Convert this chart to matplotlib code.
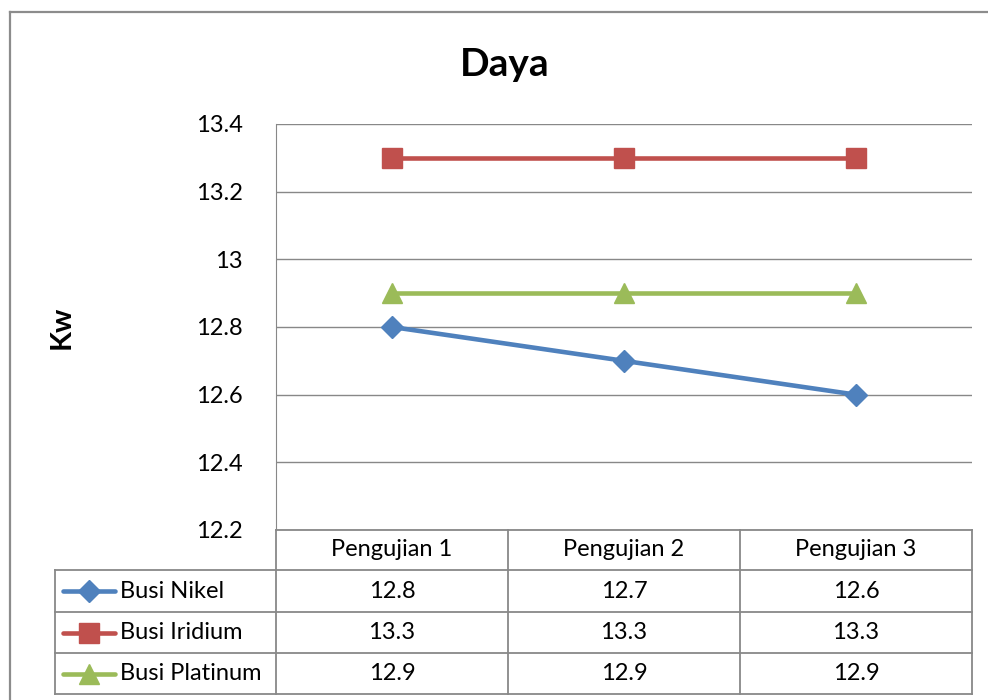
import matplotlib.pyplot as plt
from matplotlib.lines import Line2D

plt.rcParams['font.family'] = ['Lato', 'DejaVu Sans']

categories = ['Pengujian 1', 'Pengujian 2', 'Pengujian 3']
series_names = ['Busi Nikel', 'Busi Iridium', 'Busi Platinum']
nikel = [12.8, 12.7, 12.6]
iridium = [13.3, 13.3, 13.3]
platinum = [12.9, 12.9, 12.9]
y_ticks = [12.2, 12.4, 12.6, 12.8, 13.0, 13.2, 13.4]
y_labels = ['12.2', '12.4', '12.6', '12.8', '13', '13.2', '13.4']

colors = ['#4F81BD', '#C0504D', '#9BBB59']
markers = ['D', 's', '^']
msizes = [11, 14, 14]
grid_c = '#888888'
fs = 17

W, H = 988, 700
fig = plt.figure(figsize=(W / 100, H / 100), dpi=100)

def fx(px):
    return px / W

def fy(py):
    return 1 - py / H

# plot area in pixels
L, R, T, B = 276, 972, 124, 530
ax = fig.add_axes([fx(L), fy(B), fx(R) - fx(L), fy(T) - fy(B)])

all_series = [nikel, iridium, platinum]
x = list(range(len(categories)))
for vals, c, m, ms in zip(all_series, colors, markers, msizes):
    ax.plot(x, vals, color=c, lw=3.3, marker=m, markersize=ms,
            markeredgecolor=c, markerfacecolor=c, solid_capstyle='round', zorder=3)

ax.set_xlim(-0.5, len(categories) - 0.5)
ax.set_ylim(y_ticks[0], y_ticks[-1])
ax.set_yticks(y_ticks)
ax.set_yticklabels(y_labels, fontsize=fs)
ax.set_xticks([])
ax.tick_params(axis='y', length=0, pad=24)
ax.yaxis.grid(True, color=grid_c, lw=1)
ax.set_axisbelow(True)
for s in ['top', 'right', 'bottom']:
    ax.spines[s].set_visible(False)
ax.spines['left'].set_color(grid_c)

fig.text(fx(62), fy(327), 'Kw', fontsize=21, fontweight='bold', rotation=90,
         ha='center', va='center')
fig.text(fx(505), fy(65), 'Daya', fontsize=28, fontweight='bold',
         ha='center', va='center')

# outer chart border (left/top visible)
fig.add_artist(Line2D([fx(10), fx(10)], [fy(12), fy(H + 5)], color='#8c8c8c', lw=1.6))
fig.add_artist(Line2D([fx(10), fx(W + 5)], [fy(12), fy(12)], color='#8c8c8c', lw=1.6))

# data table
col_w = (R - L) / len(categories)
row_y = [570, 612, 653, 694]
tl = dict(color=grid_c, lw=1.3)

def hline(x0, x1, y):
    fig.add_artist(Line2D([fx(x0), fx(x1)], [fy(y), fy(y)], **tl))

def vline(xp, y0, y1):
    fig.add_artist(Line2D([fx(xp), fx(xp)], [fy(y0), fy(y1)], **tl))

hline(L, R, B)
for y in row_y:
    hline(55, R, y)
vline(55, row_y[0], row_y[-1])
vline(L, B, row_y[-1])
for i in range(1, len(categories) + 1):
    vline(L + i * col_w, B, row_y[-1])

for i, cat in enumerate(categories):
    fig.text(fx(L + (i + 0.5) * col_w), fy((B + row_y[0]) / 2), cat,
             fontsize=fs, ha='center', va='center')

for r, (name, vals, c, m, ms) in enumerate(zip(series_names, all_series, colors, markers, msizes)):
    yc = (row_y[r] + row_y[r + 1]) / 2
    fig.add_artist(Line2D([fx(63), fx(115)], [fy(yc), fy(yc)], color=c, lw=3.3,
                          solid_capstyle='round'))
    fig.add_artist(Line2D([fx(89)], [fy(yc)], color=c, marker=m, markersize=ms,
                          markeredgecolor=c, markerfacecolor=c, lw=0))
    fig.text(fx(120), fy(yc), name, fontsize=fs, ha='left', va='center')
    for i, v in enumerate(vals):
        fig.text(fx(L + (i + 0.5) * col_w), fy(yc), f'{v:g}',
                 fontsize=fs, ha='center', va='center')

fig.savefig('out.png', dpi=100)
